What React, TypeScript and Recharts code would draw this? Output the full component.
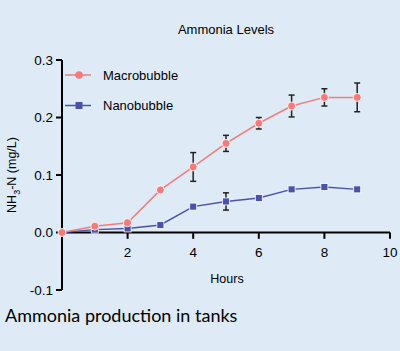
import { LineChart, Line, XAxis, YAxis, ErrorBar, ReferenceLine } from 'recharts';

const hours = [0, 1, 2, 3, 4, 5, 6, 7, 8, 9];
const macro = [0, 0.011, 0.017, 0.074, 0.114, 0.155, 0.19, 0.22, 0.235, 0.235];
const macroErr = [0, 0.002, 0.002, 0.002, 0.025, 0.014, 0.01, 0.019, 0.015, 0.025];
const nano = [0, 0.005, 0.007, 0.013, 0.045, 0.054, 0.06, 0.075, 0.079, 0.075];
const nanoErr = [0, 0.002, 0.002, 0.002, 0.003, 0.015, 0.003, 0.003, 0.003, 0.003];
const xTicks = [2, 4, 6, 8, 10];
const yTicks = [-0.1, 0, 0.1, 0.2, 0.3];

const MACRO = '#f37b7b';
const NANO = '#4b52a8';
const BG = '#deebf7';
const FONT = '"Liberation Sans", Arial, sans-serif';

const data = hours.map((h, i) => ({
  hour: h,
  macro: macro[i],
  macroErr: macroErr[i],
  nano: nano[i],
  nanoErr: nanoErr[i],
}));

const Square = (props: any) => {
  const { cx, cy, fill } = props;
  if (cx == null || cy == null) return null;
  return <rect x={cx - 3.5} y={cy - 3.5} width={7} height={7} fill={fill} stroke="#fff" strokeWidth={0.8} />;
};

const Circle = (props: any) => {
  const { cx, cy, fill } = props;
  if (cx == null || cy == null) return null;
  return <circle cx={cx} cy={cy} r={4} fill={fill} stroke="#fff" strokeWidth={0.8} />;
};

// legend drawn by hand, a Recharts <Legend> would eat plot space
const LegendBox = () => (
  <svg width={140} height={60} style={{ position: 'absolute', left: 63, top: 65 }}>
    <line x1={2} y1={10} x2={28} y2={10} stroke={MACRO} strokeWidth={1.5} />
    <circle cx={16} cy={10} r={3.8} fill={MACRO} />
    <text x={40} y={14.5} fontSize={13} fontFamily={FONT} fill="#000">Macrobubble</text>
    <line x1={2} y1={40.5} x2={28} y2={40.5} stroke={NANO} strokeWidth={1.5} />
    <rect x={12.5} y={37} width={7} height={7} fill={NANO} />
    <text x={40} y={45} fontSize={13} fontFamily={FONT} fill="#000">Nanobubble</text>
  </svg>
);

const YLabel = (props: any) => {
  const vb = props.viewBox || {};
  const cy = (vb.y ?? 60) + (vb.height ?? 230) / 2;
  return (
    <text
      x={0}
      y={0}
      transform={`translate(16, ${cy}) rotate(-90)`}
      textAnchor="middle"
      fontSize={12.5}
      fontFamily={FONT}
      fill="#000"
    >
      NH<tspan fontSize={9} dy={4}>3</tspan>
      <tspan dy={-4}>-N (mg/L)</tspan>
    </text>
  );
};

export default function App() {
  return (
    <div style={{ position: 'absolute', left: 0, top: 0, width: 400, height: 351, background: BG, overflow: 'hidden' }}>
      <div style={{ position: 'absolute', left: 0, width: 452, top: 22, textAlign: 'center', fontFamily: FONT, fontSize: 13 }}>
        Ammonia Levels
      </div>
      <LineChart width={400} height={300} data={data} margin={{ top: 60, right: 10, bottom: 10, left: 12 }}>
        <XAxis type="number" dataKey="hour" domain={[0, 10]} hide />
        <YAxis
          type="number"
          domain={[-0.1, 0.3]}
          ticks={yTicks}
          width={50}
          tickFormatter={(v: number) => v.toFixed(1)}
          axisLine={{ stroke: '#000', strokeWidth: 2 }}
          tickLine={{ stroke: '#000', strokeWidth: 2 }}
          tickSize={6}
          tickMargin={3}
          tick={{ fill: '#000', fontSize: 13.5, fontFamily: FONT }}
          label={<YLabel />}
        />
        <ReferenceLine y={0} stroke="#000" strokeWidth={2} />
        {xTicks.map((t) => (
          <ReferenceLine
            key={t}
            segment={[{ x: t, y: 0 }, { x: t, y: -0.011 }]}
            stroke="#000"
            strokeWidth={2}
            ifOverflow="visible"
            label={{ value: String(t), position: 'bottom', offset: 9, fill: '#000', fontSize: 13.5, fontFamily: FONT }}
          />
        ))}
        <Line
          dataKey="nano"
          name="Nanobubble"
          stroke={NANO}
          fill={NANO}
          strokeWidth={1.5}
          dot={<Square />}
          isAnimationActive={false}
        >
          <ErrorBar dataKey="nanoErr" width={3} stroke="#222" strokeWidth={1.5} />
        </Line>
        <Line
          dataKey="macro"
          name="Macrobubble"
          stroke={MACRO}
          fill={MACRO}
          strokeWidth={1.5}
          dot={<Circle />}
          isAnimationActive={false}
        >
          <ErrorBar dataKey="macroErr" width={3} stroke="#222" strokeWidth={1.5} />
        </Line>
      </LineChart>
      <LegendBox />
      <div style={{ position: 'absolute', left: 0, width: 454, top: 272, textAlign: 'center', fontFamily: FONT, fontSize: 12.5 }}>
        Hours
      </div>
      <div style={{ position: 'absolute', left: 5, top: 304, fontFamily: 'Lato, sans-serif', fontSize: 18, color: '#000' }}>
        Ammonia production in tanks
      </div>
    </div>
  );
}
